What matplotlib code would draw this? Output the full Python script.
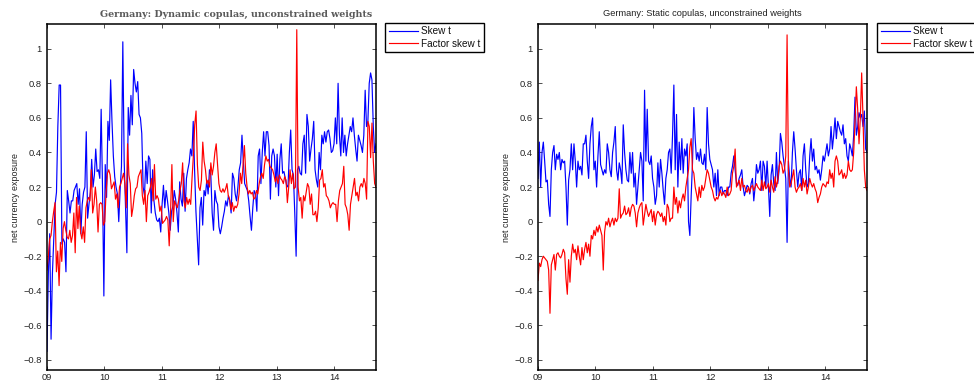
import numpy as np
import matplotlib
matplotlib.use("Agg")
import matplotlib.pyplot as plt

# ---------------------------------------------------------------
# Net currency exposure, Germany (Jan 2009 - Sep 2014)
# ---------------------------------------------------------------
start_year = 2009.0
end_year = 2014.73

year_ticks = [2009, 2010, 2011, 2012, 2013, 2014]
year_labels = ["09", "10", "11", "12", "13", "14"]
y_ticks = [-0.8, -0.6, -0.4, -0.2, 0.0, 0.2, 0.4, 0.6, 0.8, 1.0]
y_labels = ["\u22120.8", "\u22120.6", "\u22120.4", "\u22120.2", "0", "0.2", "0.4", "0.6", "0.8", "1"]

series_names = ["Skew t", "Factor skew t"]

# Dynamic copulas
dyn_skew_t = [
    -0.75, -0.3, -0.07, -0.68, -0.3, -0.1, 0.1, 0.17, 0.55, 0.79, 0.79, -0.13, -0.1, -0.12, -0.29,
    0.18, 0.12, 0.05, 0.12, 0.12, 0.18, 0.2, 0.22, 0.1, 0.19, -0.07, 0.1, 0.17, 0.2, 0.52, 0.02,
    0.1, 0.17, 0.36, 0.2, 0.27, 0.42, 0.29, 0.3, 0.25, 0.65, 0.2, -0.43, 0.33, 0.14, 0.58, 0.47,
    0.82, 0.58, 0.38, 0.26, 0.2, 0.16, 0.0, 0.18, 0.32, 1.04, 0.35, 0.09, -0.18, 0.66, 0.5, 0.73,
    0.56, 0.88, 0.8, 0.75, 0.81, 0.62, 0.6, 0.51, 0.2, 0.15, 0.35, 0.22, 0.38, 0.36, 0.05, 0.3,
    0.12, 0.05, 0.01,
    0.0, 0.02, -0.06, 0.1, 0.21, 0.08, 0.18, 0.12, 0.05, -0.05, 0.06, 0.09, 0.18, 0.13, 0.05,
    -0.06, 0.23, 0.13, 0.09, 0.28, 0.06, 0.25, 0.3, 0.34, 0.42, 0.38, 0.58, 0.3, 0.06, -0.1,
    -0.25, 0.08, 0.14, -0.02, 0.18, 0.15, 0.24, 0.16, 0.3, 0.27, 0.05, -0.05, 0.18, 0.12, 0.1,
    -0.03, -0.07, -0.03, 0.02, 0.06, 0.12, 0.09, 0.15, 0.12, 0.05, 0.28, 0.25, 0.16, 0.12, 0.2,
    0.3, 0.34, 0.5, 0.35, 0.22, 0.2, 0.18, 0.12, 0.03, -0.05, 0.08, 0.18, 0.16, 0.06, 0.38,
    0.42, 0.22, 0.4, 0.52, 0.38, 0.52, 0.52, 0.44,
    0.13, 0.38, 0.42, 0.38, 0.2, 0.39, 0.15, 0.36, 0.45, 0.28, 0.29, 0.25, 0.21, 0.2, 0.4,
    0.53, 0.3, 0.27, 0.05, -0.2, 0.3, 0.32, 0.28, 0.27, 0.45, 0.5, 0.28, 0.62, 0.55, 0.35,
    0.42, 0.48, 0.58, 0.3, 0.24, 0.2, 0.4, 0.3, 0.5, 0.45, 0.52, 0.46, 0.52, 0.53, 0.48,
    0.4, 0.41, 0.45, 0.6, 0.45, 0.8, 0.5, 0.38, 0.6, 0.4, 0.5, 0.38, 0.45, 0.5, 0.55,
    0.52, 0.6, 0.5, 0.42, 0.35, 0.5, 0.47, 0.44, 0.4, 0.5, 0.76, 0.55, 0.58, 0.8, 0.86,
    0.82, 0.55, 0.4, 0.45,
]
dyn_factor_skew_t = [
    -0.28, -0.2, -0.1, -0.08, 0.0, 0.06, 0.11, -0.29, -0.17, -0.37, -0.12, -0.23, -0.04, 0.0,
    -0.05, -0.09, -0.1, -0.05, -0.12, -0.08, 0.05, -0.18, 0.14, -0.04, 0.09, -0.06, -0.1, -0.03,
    -0.12, 0.08, 0.12, 0.14, 0.12, 0.3, 0.05, 0.1, 0.2, 0.12, -0.06, 0.1, 0.11, 0.1, -0.02, 0.0,
    0.17, 0.28, 0.3, 0.27, 0.19, 0.21, 0.23, 0.13, 0.16, 0.08, 0.2, 0.22, 0.25, 0.28, 0.22, 0.08,
    0.45, 0.27, 0.22, 0.03, 0.08, 0.15, 0.19, 0.2, 0.26, 0.28, 0.3, 0.15, 0.1, 0.18, 0.0, 0.15,
    0.17, 0.2, 0.25, 0.12, 0.33, 0.13, 0.15, 0.13,
    0.06, 0.09, -0.01, 0.0, 0.01, 0.03, 0.01, -0.14, 0.05, 0.33, 0.0, 0.12, 0.1, 0.08, 0.12,
    0.18, 0.22, 0.34, 0.12, 0.08, 0.14, 0.1, 0.13, 0.1, 0.25, 0.38, 0.56, 0.64, 0.33, 0.2,
    0.18, 0.24, 0.46, 0.35, 0.3, 0.22, 0.24, 0.2, 0.34, 0.27, 0.32, 0.4, 0.45, 0.33, 0.22,
    0.18, 0.17, 0.19, 0.17, 0.19, 0.22, 0.15, 0.13, 0.07, 0.11, 0.06, 0.09, 0.08, 0.1, 0.16,
    0.28, 0.22, 0.33, 0.44, 0.28, 0.2, 0.16, 0.18, 0.16, 0.17, 0.13, 0.14, 0.18, 0.16, 0.22,
    0.26, 0.28, 0.25, 0.33, 0.38, 0.35, 0.36, 0.32,
    0.31, 0.3, 0.27, 0.23, 0.26, 0.22, 0.27, 0.25, 0.24, 0.22, 0.26, 0.24, 0.11, 0.2, 0.3,
    0.22, 0.28, 0.19, 0.2, 1.11, 0.2, 0.12, 0.14, 0.02, 0.15, 0.12, 0.17, 0.22, 0.2, 0.1,
    0.16, 0.04, 0.04, 0.06, 0.0, 0.08, 0.24, 0.25, 0.3, 0.2, 0.22, 0.15, 0.14, 0.12, 0.08,
    0.1, 0.11, 0.1, 0.1, 0.0, 0.12, 0.18, 0.2, 0.22, 0.32, 0.1, 0.08, 0.04, -0.05, 0.1,
    0.15, 0.2, 0.25, 0.15, 0.17, 0.12, 0.2, 0.22, 0.2, 0.25, 0.22, 0.13, 0.58, 0.55, 0.37,
    0.57, 0.35, 0.22, 0.2,
]

# Static copulas
sta_skew_t = [
    0.25, 0.46, 0.2, 0.4, 0.46, 0.35, 0.23, 0.24, 0.1, 0.03, 0.3, 0.4, 0.44, 0.3, 0.39,
    0.36, 0.4, 0.3, 0.36, 0.34, 0.35, 0.2, -0.02, 0.24, 0.3, 0.45, 0.3, 0.45, 0.35, 0.2,
    0.35, 0.3, 0.32, 0.27, 0.45, 0.45, 0.5, 0.35, 0.25, 0.45, 0.55, 0.6, 0.3, 0.35, 0.2,
    0.38, 0.52, 0.33, 0.3, 0.27, 0.3, 0.28, 0.45, 0.4, 0.3, 0.26, 0.4, 0.46, 0.55, 0.3,
    0.24, 0.34, 0.3, 0.22, 0.56, 0.4, 0.3, 0.24, 0.23, 0.4, 0.28, 0.4, 0.2, 0.28, 0.1,
    0.2, 0.3, 0.4, 0.35, 0.12, 0.76, 0.35, 0.65, 0.35, 0.33,
    0.38, 0.25, 0.2, 0.1, 0.15, 0.34, 0.2, 0.36, 0.28, 0.18, 0.1, 0.25, 0.3, 0.4, 0.42,
    0.28, 0.5, 0.79, 0.3, 0.62, 0.2, 0.46, 0.3, 0.48, 0.28, 0.42, 0.38, 0.45, 0.0, -0.08,
    0.15, 0.34, 0.66, 0.48, 0.36, 0.4, 0.35, 0.42, 0.34, 0.33, 0.39, 0.3, 0.66, 0.45, 0.36,
    0.33, 0.3, 0.2, 0.28, 0.15, 0.3, 0.15, 0.2, 0.2, 0.16, 0.18, 0.18, 0.15, 0.2, 0.2,
    0.28, 0.32, 0.38, 0.3, 0.22, 0.21, 0.25, 0.27, 0.3, 0.2, 0.15, 0.18, 0.21, 0.2, 0.16,
    0.22, 0.25, 0.12, 0.2, 0.33, 0.28, 0.3, 0.35,
    0.18, 0.35, 0.32, 0.2, 0.35, 0.2, 0.03, 0.27, 0.33, 0.22, 0.18, 0.4, 0.22, 0.3, 0.51,
    0.46, 0.38, 0.32, 0.25, -0.12, 0.35, 0.25, 0.2, 0.4, 0.52, 0.42, 0.3, 0.2, 0.28, 0.3,
    0.18, 0.38, 0.45, 0.3, 0.2, 0.22, 0.38, 0.48, 0.35, 0.42, 0.3, 0.32, 0.28, 0.3, 0.24,
    0.3, 0.38, 0.35, 0.4, 0.45, 0.38, 0.42, 0.55, 0.42, 0.5, 0.6, 0.48, 0.58, 0.55, 0.52,
    0.5, 0.56, 0.45, 0.48, 0.38, 0.35, 0.45, 0.42, 0.38, 0.5, 0.72, 0.5, 0.55, 0.63, 0.6,
    0.62, 0.55, 0.64, 0.42, 0.4,
]
sta_factor_skew_t = [
    -0.34, -0.24, -0.26, -0.22, -0.2, -0.21, -0.22, -0.23, -0.28, -0.53, -0.25, -0.22, -0.19,
    -0.28, -0.19, -0.18, -0.2, -0.21, -0.19, -0.16, -0.18, -0.33, -0.42, -0.22, -0.35, -0.2,
    -0.13, -0.18, -0.16, -0.22, -0.14, -0.2, -0.25, -0.15, -0.22, -0.16, -0.12, -0.18, -0.13,
    -0.2, -0.08, -0.1, -0.05, -0.08, -0.03, -0.06, -0.02, -0.05, -0.08, -0.28, -0.06, 0.0,
    -0.02, 0.02, -0.03, 0.0, 0.02, -0.02, 0.02, 0.0, 0.02, 0.19, 0.02, 0.04, 0.05, 0.09, 0.04,
    0.05, 0.08, 0.03, 0.08, 0.1, 0.09, 0.05, -0.03, 0.05, 0.08, 0.1, 0.11, -0.02, 0.04, 0.1,
    0.06, 0.03, 0.05,
    0.07, 0.0, 0.06, -0.02, 0.04, 0.06, 0.05, 0.03, 0.05, 0.0, 0.03, -0.02, 0.1, 0.08, 0.0,
    0.02, 0.02, 0.2, 0.1, 0.14, 0.05, 0.12, 0.08, 0.13, 0.16, 0.12, 0.2, 0.25, 0.3, 0.43,
    0.48, 0.3, 0.28, 0.2, 0.16, 0.12, 0.2, 0.14, 0.21, 0.18, 0.2, 0.25, 0.3, 0.28, 0.24,
    0.2, 0.18, 0.14, 0.12, 0.14, 0.13, 0.16, 0.18, 0.15, 0.17, 0.16, 0.14, 0.2, 0.15, 0.16,
    0.18, 0.28, 0.32, 0.42, 0.2, 0.22, 0.24, 0.18, 0.25, 0.2, 0.21, 0.18, 0.17, 0.2, 0.17,
    0.2, 0.21, 0.18, 0.2, 0.22, 0.2, 0.19, 0.18,
    0.24, 0.18, 0.23, 0.19, 0.2, 0.22, 0.17, 0.24, 0.2, 0.17, 0.26, 0.2, 0.24, 0.32, 0.35,
    0.33, 0.28, 0.3, 0.38, 1.08, 0.3, 0.2, 0.22, 0.26, 0.3, 0.2, 0.17, 0.19, 0.2, 0.22,
    0.18, 0.25, 0.2, 0.24, 0.16, 0.2, 0.25, 0.22, 0.2, 0.22, 0.19, 0.17, 0.11, 0.14, 0.16,
    0.2, 0.22, 0.21, 0.2, 0.23, 0.22, 0.3, 0.25, 0.28, 0.2, 0.35, 0.38, 0.35, 0.27, 0.28,
    0.3, 0.25, 0.28, 0.25, 0.27, 0.35, 0.3, 0.29, 0.3, 0.4, 0.58, 0.78, 0.65, 0.45, 0.6,
    0.86, 0.6, 0.3, 0.2, 0.18,
]

panels = [
    ("Germany: Dynamic copulas, unconstrained weights", dyn_skew_t, dyn_factor_skew_t),
    ("Germany: Static copulas, unconstrained weights", sta_skew_t, sta_factor_skew_t),
]

W, H = 974, 389
fig = plt.figure(figsize=(W / 100, H / 100), dpi=100)
fig.patch.set_facecolor("white")

sans = ["Liberation Sans", "DejaVu Sans"]

ax_left_px = [47, 538]
ax_w_px = 329
ax_top_px, ax_bot_px = 24, 370
legend_left_px = [385, 877]
title_center_px = [236, 702]

for i, (title, blue, red) in enumerate(panels):
    ax = fig.add_axes([ax_left_px[i] / W, 1 - ax_bot_px / H,
                       ax_w_px / W, (ax_bot_px - ax_top_px) / H])
    xb = np.linspace(start_year, end_year, len(blue))
    xr = np.linspace(start_year, end_year, len(red))
    ax.plot(xb, blue, color=(0, 0, 1), lw=0.85, label=series_names[0])
    ax.plot(xr, red, color=(1, 0, 0), lw=0.85, label=series_names[1])

    ax.set_xlim(start_year, end_year)
    ax.set_ylim(-0.858, 1.143)
    ax.set_xticks(year_ticks)
    ax.set_xticklabels(year_labels, fontfamily=sans, fontsize=6.7)
    ax.set_yticks(y_ticks)
    ax.set_yticklabels(y_labels, fontfamily=sans, fontsize=6.7)
    ax.tick_params(direction="in", length=3, width=0.6, top=True, right=True,
                   color="#333333", labelcolor="#222222")
    ax.tick_params(axis="y", pad=4)
    ax.tick_params(axis="x", pad=2.5)
    for sp in ax.spines.values():
        sp.set_linewidth(1.1)
        sp.set_color("black")
    ax.set_ylabel("net currency exposure", fontfamily=sans, fontsize=6.4,
                  color="#222222", labelpad=2)

    if i == 0:
        fig.text(title_center_px[i] / W, 1 - 14 / H, title, ha="center", va="center",
                 fontfamily="DejaVu Serif", fontsize=6.8, color="#5a5a5a",
                 fontweight="bold")
    else:
        fig.text(title_center_px[i] / W, 1 - 13 / H, title, ha="center", va="center",
                 fontfamily=sans, fontsize=6.7, color="#222222")

    leg = ax.legend(loc="upper left",
                    bbox_to_anchor=(legend_left_px[i] / W, 1 - 23 / H),
                    bbox_transform=fig.transFigure, frameon=True, fancybox=False,
                    framealpha=1, edgecolor="black",
                    prop={"family": sans, "size": 7.2},
                    handlelength=2.9, handletextpad=0.35, borderpad=0.35,
                    labelspacing=0.22, borderaxespad=0)
    leg.get_frame().set_linewidth(1.0)
    for t in leg.get_texts():
        t.set_color("#111111")

fig.savefig("out.png", dpi=100, facecolor="white")
